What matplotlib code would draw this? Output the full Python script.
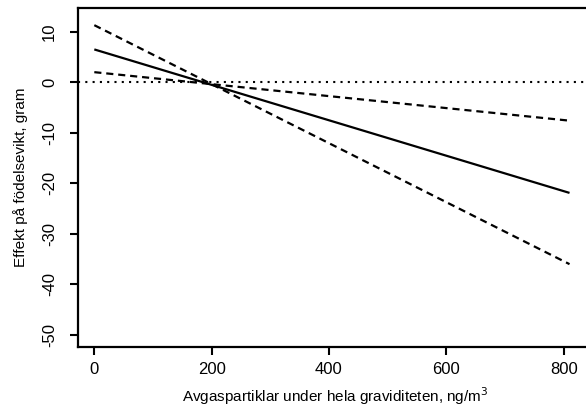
import matplotlib
matplotlib.use("Agg")
import matplotlib.pyplot as plt

plt.rcParams['font.family'] = ['Liberation Sans', 'DejaVu Sans']

x = [0, 810]
effect = [6.5, -21.9]
lower_ci = [2.0, -7.6]
upper_ci = [11.3, -36.0]

xticks = [0, 200, 400, 600, 800]
yticks = [10, 0, -10, -20, -30, -40, -50]

fig = plt.figure(figsize=(5.86, 4.07), dpi=100)
ax = fig.add_axes([78/586, 60/407, 515/586, 339/407])

ax.axhline(0, color='black', lw=1.5, linestyle=(0, (1, 2.5)))
ax.plot(x, effect, color='black', lw=1.6, solid_capstyle='butt')
ax.plot(x, lower_ci, color='black', lw=1.6, linestyle=(0, (3.2, 2.2)), dash_capstyle='butt')
ax.plot(x, upper_ci, color='black', lw=1.6, linestyle=(0, (3.2, 2.2)), dash_capstyle='butt')

ax.set_xlim(-27.8, 850)
ax.set_ylim(-52.4, 14.7)
ax.set_xticks(xticks)
ax.set_yticks(yticks)
ax.set_yticklabels([str(v) for v in yticks], rotation=90, va='center')
ax.tick_params(axis='both', labelsize=12, width=1.5, length=6, color='black')
ax.tick_params(axis='y', pad=9)
ax.tick_params(axis='x', pad=5)
for s in ax.spines.values():
    s.set_linewidth(1.6)

ax.set_xlabel('Avgaspartiklar under hela graviditeten, ng/m$^3$', fontsize=11, labelpad=6)
ax.set_ylabel('Effekt på födelsevikt, gram', fontsize=11, labelpad=10)

fig.savefig('out.png', dpi=100)
